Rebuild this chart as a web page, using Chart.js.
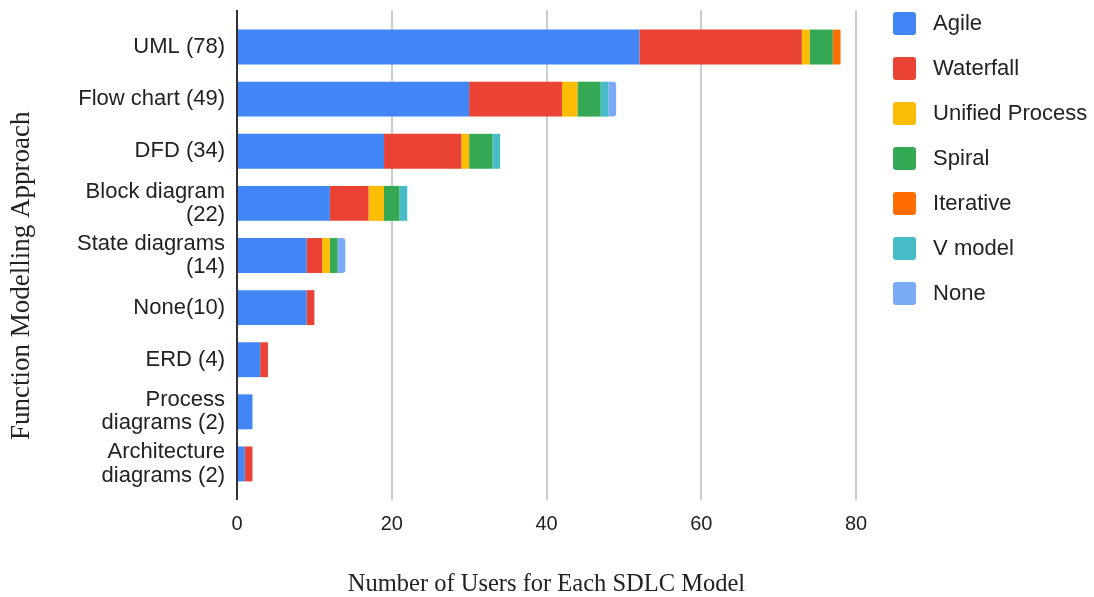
<!DOCTYPE html>
<html>
<head>
<meta charset="utf-8">
<script src="https://cdn.jsdelivr.net/npm/chart.js@4/dist/chart.umd.min.js"></script>
<style>
  html, body { margin: 0; padding: 0; background: #fff; }
  #wrap { width: 1094px; height: 597px; position: relative; }
</style>
</head>
<body>
<div id="wrap"><canvas id="chart"></canvas></div>
<script>
// Function modelling approach per SDLC model (stacked counts)
const categories = [
  'UML (78)',
  'Flow chart (49)',
  'DFD (34)',
  ['Block diagram', '(22)'],
  ['State diagrams', '(14)'],
  'None(10)',
  'ERD (4)',
  ['Process', 'diagrams (2)'],
  ['Architecture', 'diagrams (2)']
];
const agile     = [52, 30, 19, 12, 9, 9, 3, 2, 1];
const waterfall = [21, 12, 10, 5, 2, 1, 1, 0, 1];
const unified   = [1, 2, 1, 2, 1, 0, 0, 0, 0];
const spiral    = [3, 3, 3, 2, 1, 0, 0, 0, 0];
const iterative = [1, 0, 0, 0, 0, 0, 0, 0, 0];
const vModel    = [0, 1, 1, 1, 0, 0, 0, 0, 0];
const noneModel = [0, 1, 0, 0, 1, 0, 0, 0, 0];
const xTicks = [0, 20, 40, 60, 80];

const sans = '"Liberation Sans", Arial, sans-serif';
const serif = '"Liberation Serif", "Times New Roman", serif';

// grid lines + axis line a bit longer than the plot area, like the original
const sheetGrid = {
  id: 'sheetGrid',
  afterLayout(chart) {
    const lg = chart.legend;
    if (!lg) return;
    lg.left = 871;
    lg.right = 1094;
    lg.top = -10;
    lg.bottom = 597;
  },
  beforeDatasetsDraw(chart) {
    const ctx = chart.ctx;
    const x = chart.scales.x;
    ctx.save();
    ctx.strokeStyle = '#cccccc';
    ctx.lineWidth = 2;
    x.ticks.forEach(t => {
      if (t.value === 0) return;
      const px = Math.round(x.getPixelForValue(t.value));
      ctx.beginPath();
      ctx.moveTo(px, 10);
      ctx.lineTo(px, 500);
      ctx.stroke();
    });
    ctx.restore();
  },
  afterDatasetsDraw(chart) {
    const ctx = chart.ctx;
    const px = Math.round(chart.scales.x.getPixelForValue(0));
    ctx.save();
    ctx.strokeStyle = '#333333';
    ctx.lineWidth = 2;
    ctx.beginPath();
    ctx.moveTo(px, 10);
    ctx.lineTo(px, 500);
    ctx.stroke();
    ctx.restore();
  }
};

function series(label, data, color) {
  return { label: label, data: data, backgroundColor: color, borderWidth: 0 };
}

const datasets = [
  series('Agile', agile, '#4285F4'),
  series('Waterfall', waterfall, '#EA4335'),
  series('Unified Process', unified, '#FBBC04'),
  series('Spiral', spiral, '#34A853'),
  series('Iterative', iterative, '#FF6D01'),
  series('V model', vModel, '#46BDC6'),
  series('None', noneModel, '#7BAAF7')
];
datasets[6].borderRadius = { topRight: 3, bottomRight: 3 };
datasets[6].borderSkipped = 'start';

new Chart(document.getElementById('chart'), {
  type: 'bar',
  data: { labels: categories, datasets: datasets },
  options: {
    indexAxis: 'y',
    responsive: true,
    maintainAspectRatio: false,
    animation: false,
    layout: { padding: { left: 0, top: 21, right: 58, bottom: 0 } },
    datasets: { bar: { categoryPercentage: 1, barPercentage: 0.67 } },
    scales: {
      x: {
        stacked: true,
        min: xTicks[0],
        max: xTicks[xTicks.length - 1],
        grid: { display: false, drawTicks: false },
        border: { display: false },
        afterFit: s => { s.height = 107; s.paddingLeft = 0; s.paddingRight = 0; },
        afterBuildTicks: s => { s.ticks = xTicks.map(v => ({ value: v })); },
        ticks: { padding: 22, color: '#222', font: { family: sans, size: 20 } },
        title: {
          display: true,
          text: 'Number of Users for Each SDLC Model',
          color: '#222',
          font: { family: serif, size: 24.5, lineHeight: 1.0 },
          padding: { top: 0, bottom: 0 }
        }
      },
      y: {
        stacked: true,
        grid: { display: false, drawTicks: false },
        border: { display: false },
        afterFit: s => { s.width = 237; s.paddingTop = 0; s.paddingBottom = 0; },
        ticks: { padding: 12, color: '#222', font: { family: sans, size: 22, lineHeight: 1.05 } },
        title: {
          display: true,
          text: 'Function Modelling Approach\u00a0\u00a0\u00a0\u00a0\u00a0\u00a0',
          color: '#222',
          font: { family: serif, size: 27, lineHeight: 1.2 },
          padding: { top: 6, bottom: 0 }
        }
      }
    },
    plugins: {
      legend: {
        position: 'right',
        align: 'start',
        maxWidth: 180,
        labels: {
          boxWidth: 23,
          boxHeight: 23,
          padding: 22,
          useBorderRadius: true,
          borderRadius: 3,
          color: '#222',
          font: { family: sans, size: 22 },
          generateLabels: chart => Chart.defaults.plugins.legend.labels.generateLabels(chart)
            .map(item => Object.assign(item, { text: '\u00a0' + item.text }))
        }
      },
      tooltip: { enabled: false }
    }
  },
  plugins: [sheetGrid]
});
</script>
</body>
</html>
